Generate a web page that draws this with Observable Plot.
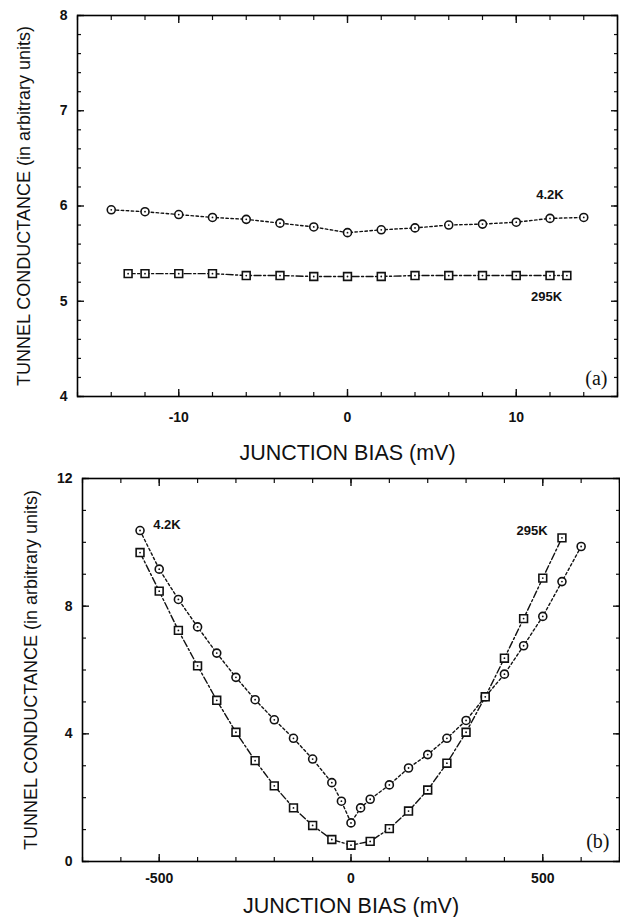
<!DOCTYPE html>
<html>
<head>
<meta charset="utf-8">
<script src="https://cdn.jsdelivr.net/npm/d3@7"></script>
<script src="https://cdn.jsdelivr.net/npm/@observablehq/plot@0.6"></script>
<style>
  html, body { margin: 0; padding: 0; background: #fff; }
  #wrap { position: relative; width: 620px; height: 917px; overflow: hidden; }
  #wrap > svg { position: absolute; left: 0; }
</style>
</head>
<body>
<div id="wrap"></div>
<script>
// ---- Panel (a): low bias ----
const biasA42 = [-14, -12, -10, -8, -6, -4, -2, 0, 2, 4, 6, 8, 10, 12, 14];
const gA42 = [5.96, 5.94, 5.91, 5.88, 5.86, 5.82, 5.78, 5.72, 5.75, 5.77, 5.80, 5.81, 5.83, 5.87, 5.88];
const biasA295 = [-13, -12, -10, -8, -6, -4, -2, 0, 2, 4, 6, 8, 10, 12, 13];
const gA295 = [5.29, 5.29, 5.29, 5.29, 5.27, 5.27, 5.26, 5.26, 5.26, 5.27, 5.27, 5.27, 5.27, 5.27, 5.27];

// ---- Panel (b): high bias ----
const biasB42 = [-550, -500, -450, -400, -350, -300, -250, -200, -150, -100, -50, -25, 0, 25, 50, 100, 150, 200, 250, 300, 350, 400, 450, 500, 550, 600];
const gB42 = [10.37, 9.16, 8.21, 7.35, 6.53, 5.77, 5.07, 4.44, 3.86, 3.21, 2.47, 1.89, 1.21, 1.68, 1.95, 2.40, 2.93, 3.35, 3.86, 4.42, 5.16, 5.87, 6.76, 7.68, 8.77, 9.87];
const biasB295 = [-550, -500, -450, -400, -350, -300, -250, -200, -150, -100, -50, 0, 50, 100, 150, 200, 250, 300, 350, 400, 450, 500, 550];
const gB295 = [9.68, 8.47, 7.24, 6.13, 5.05, 4.05, 3.16, 2.37, 1.68, 1.13, 0.69, 0.51, 0.63, 1.03, 1.58, 2.24, 3.08, 4.05, 5.16, 6.37, 7.61, 8.88, 10.14];

// ticks & labels
const xTicksA = [-10, 0, 10];
const xMinorA = [-16, -14, -12, -10, -8, -6, -4, -2, 0, 2, 4, 6, 8, 10, 12, 14, 16];
const yTicksA = [4, 5, 6, 7, 8];
const yMinorA = d3.range(4, 8.001, 0.2);
const xTicksB = [-500, 0, 500];
const xMinorB = d3.range(-700, 701, 100);
const yTicksB = [0, 4, 8, 12];
const yMinorB = d3.range(0, 13, 1);

const xTitle = "JUNCTION BIAS (mV)";
const yTitle = "TUNNEL CONDUCTANCE (in arbitrary units)";
const seriesLabels = ["4.2K", "295K"];

const toRows = (xs, ys) => xs.map((x, i) => ({x, y: ys[i]}));

const FONT = "'Liberation Sans', Arial, Helvetica, sans-serif";
const DOT42 = "2.5,2.5";
const DASHDOT = "7,2.5,2,2.5";
const fmt = d => String(d);

function axesMarks(xMajor, xMinor, yMajor, yMinor, opts) {
  const m = [];
  for (const anchor of ["bottom", "top"]) {
    m.push(Plot.axisX(xMinor, {anchor, tickSize: -4, text: null, label: null, strokeWidth: 1.2}));
    m.push(Plot.axisX(xMajor, {anchor, tickSize: -7, text: null, label: null, strokeWidth: 1.4}));
  }
  for (const anchor of ["left", "right"]) {
    m.push(Plot.axisY(yMinor, {anchor, tickSize: -4, text: null, label: null, strokeWidth: 1.2}));
    m.push(Plot.axisY(yMajor, {anchor, tickSize: -7, text: null, label: null, strokeWidth: 1.4}));
  }
  m.push(Plot.axisX(xMajor, {anchor: "bottom", tickSize: 0, tickPadding: opts.xPad, fontSize: 14, fontWeight: "bold",
    tickFormat: fmt, label: null}));
  m.push(Plot.axisY(yMajor, {anchor: "left", tickSize: 0, tickPadding: opts.yPad, fontSize: 14, fontWeight: "bold",
    tickFormat: fmt, label: null}));
  m.push(Plot.text([xTitle], {frameAnchor: "bottom", dy: opts.xTitleDy, text: d => d, fontSize: 21.5, fill: "#111",
    textAnchor: "middle", lineAnchor: "middle"}));
  m.push(Plot.text([yTitle], {frameAnchor: "left", dx: -opts.yTitleDx, rotate: -90, text: d => d, fontSize: 18, fill: "#111",
    textAnchor: "middle", lineAnchor: "middle"}));
  m.push(Plot.frame({stroke: "#000", strokeWidth: 1.6}));
  return m;
}

function seriesMarks(rows42, rows295) {
  return [
    Plot.line(rows42, {x: "x", y: "y", stroke: "#111", strokeWidth: 1.4, strokeDasharray: DOT42}),
    Plot.line(rows295, {x: "x", y: "y", stroke: "#111", strokeWidth: 1.4, strokeDasharray: DASHDOT}),
    Plot.dot(rows42, {x: "x", y: "y", r: 4, stroke: "#111", strokeWidth: 1.6, fill: "#fff"}),
    Plot.dot(rows42, {x: "x", y: "y", r: 0.9, fill: "#111"}),
    Plot.dot(rows295, {x: "x", y: "y", symbol: "square", r: 4.4, stroke: "#111", strokeWidth: 1.6, fill: "#fff"}),
    Plot.dot(rows295, {x: "x", y: "y", r: 0.9, fill: "#111"})
  ];
}

// Panel (a)
const rowsA42 = toRows(biasA42, gA42);
const rowsA295 = toRows(biasA295, gA295);
const plotA = Plot.plot({
  width: 620, height: 474,
  marginLeft: 77, marginRight: 3, marginTop: 15, marginBottom: 78,
  style: {fontFamily: FONT, fontSize: "14px", color: "#111", background: "transparent"},
  x: {domain: [-16, 16]},
  y: {domain: [4, 8]},
  marks: [
    ...axesMarks(xTicksA, xMinorA, yTicksA, yMinorA, {xPad: 16, yPad: 10, xTitleDy: 57, yTitleDx: 53}),
    ...seriesMarks(rowsA42, rowsA295),
    Plot.text([seriesLabels[0]], {x: 12.0, y: 6.12, text: d => d, fontSize: 13, fontWeight: "bold", fill: "#111"}),
    Plot.text([seriesLabels[1]], {x: 11.8, y: 5.05, text: d => d, fontSize: 13, fontWeight: "bold", fill: "#111"}),
    Plot.text(["(a)"], {frameAnchor: "bottom-right", dx: -10, dy: -12, text: d => d, fontFamily: "'Liberation Serif', serif", fontSize: 20, fill: "#111"})
  ]
});
plotA.style.top = "0px";

// Panel (b)
const rowsB42 = toRows(biasB42, gB42);
const rowsB295 = toRows(biasB295, gB295);
const plotB = Plot.plot({
  width: 620, height: 457,
  marginLeft: 82, marginRight: 1, marginTop: 18, marginBottom: 56,
  style: {fontFamily: FONT, fontSize: "14px", color: "#111", background: "transparent"},
  x: {domain: [-700, 700]},
  y: {domain: [0, 12]},
  marks: [
    ...axesMarks(xTicksB, xMinorB, yTicksB, yMinorB, {xPad: 12, yPad: 10, xTitleDy: 45, yTitleDx: 51}),
    ...seriesMarks(rowsB42, rowsB295),
    Plot.text([seriesLabels[0]], {x: -480, y: 10.55, text: d => d, fontSize: 13, fontWeight: "bold", fill: "#111"}),
    Plot.text([seriesLabels[1]], {x: 472, y: 10.35, text: d => d, fontSize: 13, fontWeight: "bold", fill: "#111"}),
    Plot.text(["(b)"], {frameAnchor: "bottom-right", dx: -10, dy: -14, text: d => d, fontFamily: "'Liberation Serif', serif", fontSize: 20, fill: "#111"})
  ]
});
plotB.style.top = "460px";

const wrap = document.getElementById("wrap");
wrap.appendChild(plotA);
wrap.appendChild(plotB);
</script>
</body>
</html>
